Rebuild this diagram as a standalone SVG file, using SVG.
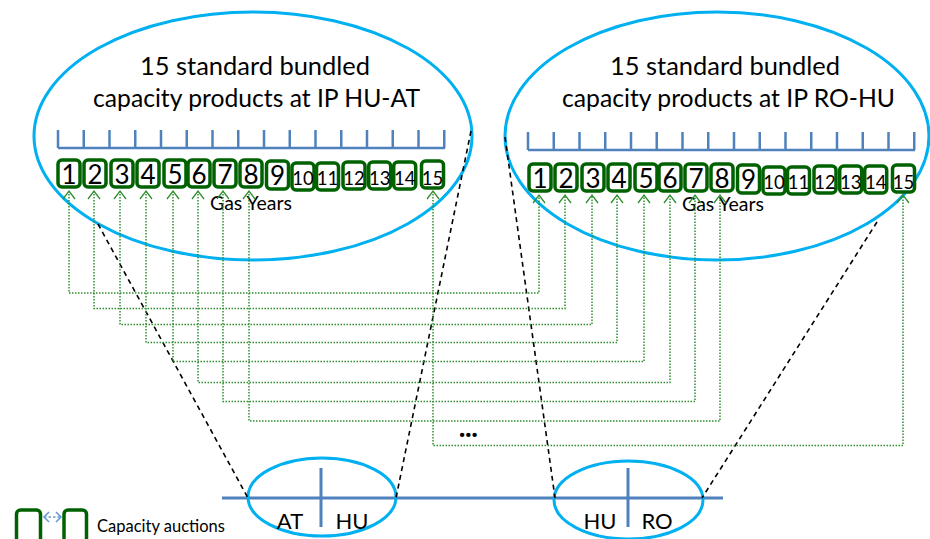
<svg xmlns="http://www.w3.org/2000/svg" width="930" height="539" viewBox="0 0 930 539">
<defs>
<style>
.ell{fill:none;stroke:#00b0f0;stroke-width:3}
.tl{fill:none;stroke:#4f81bd;stroke-width:2.5}
.box{fill:#fff;stroke:#006100;stroke-width:3.5}
.t{font-family:Lato,"Liberation Sans",sans-serif;fill:#000}
.big{font-size:26px;text-anchor:middle}
.sm{font-size:18.5px;text-anchor:middle}
.title{font-size:25.5px;text-anchor:middle}
.conn{fill:none;stroke:#2e8f2e;stroke-width:1.5;stroke-dasharray:1.5 1.5;marker-start:url(#chev);marker-end:url(#chev)}
.dash{fill:none;stroke:#000;stroke-width:1.6;stroke-dasharray:5 4}
</style>
<marker id="chev" markerUnits="userSpaceOnUse" markerWidth="20" markerHeight="20" viewBox="-10 -10 20 20" refX="0" refY="0" orient="auto-start-reverse">
<path d="M-8,-6 L0,0 L-8,6" fill="none" stroke="#2e8f2e" stroke-width="1.3"/>
</marker>
<marker id="lchev" markerUnits="userSpaceOnUse" markerWidth="12" markerHeight="12" viewBox="-6 -6 12 12" refX="0" refY="0" orient="auto-start-reverse">
<path d="M-5,-5 L0,0 L-5,5" fill="none" stroke="#6a9bd8" stroke-width="1.6"/>
</marker>
</defs>
<rect width="930" height="539" fill="#fff"/>

<g id="ip-hu-at">
<ellipse class="ell" cx="253" cy="136" rx="219" ry="124"/>
<text class="t title" x="255" y="75" textLength="230" lengthAdjust="spacingAndGlyphs">15 standard bundled</text>
<text class="t title" x="256.5" y="107" textLength="327" lengthAdjust="spacingAndGlyphs">capacity products at IP HU-AT</text>
<path class="tl" d="M58,148 H445 M58,130 V148 M83.75,130 V148 M109.5,130 V148 M135.25,130 V148 M161,130 V148 M186.75,130 V148 M212.5,130 V148 M238.25,130 V148 M264,130 V148 M289.75,130 V148 M315.5,130 V148 M341.25,130 V148 M367,130 V148 M392.75,130 V148 M418.5,130 V148 M444.25,130 V148"/>
<g>
<rect class="box" x="58" y="160" width="22" height="27" rx="4"/><text class="t big" x="69" y="184">1</text>
<rect class="box" x="84" y="160" width="22" height="27" rx="4"/><text class="t big" x="95" y="184">2</text>
<rect class="box" x="111" y="160" width="22" height="27" rx="4"/><text class="t big" x="122" y="184">3</text>
<rect class="box" x="137" y="160" width="22" height="27" rx="4"/><text class="t big" x="148" y="184">4</text>
<rect class="box" x="164" y="160" width="22" height="27" rx="4"/><text class="t big" x="175" y="184">5</text>
<rect class="box" x="188" y="160" width="22" height="27" rx="4"/><text class="t big" x="199" y="184">6</text>
<rect class="box" x="214" y="160" width="22" height="27" rx="4"/><text class="t big" x="225" y="184">7</text>
<rect class="box" x="240" y="160" width="22" height="27" rx="4"/><text class="t big" x="251" y="184">8</text>
<rect class="box" x="266.5" y="161" width="22" height="28" rx="4"/><text class="t big" x="277.5" y="185">9</text>
<rect class="box" x="292" y="163" width="22" height="27" rx="4"/><text class="t sm" x="303" y="184.5">10</text>
<rect class="box" x="316.5" y="163" width="22" height="27" rx="4"/><text class="t sm" x="327.5" y="184.5">11</text>
<rect class="box" x="343" y="162" width="22" height="27" rx="4"/><text class="t sm" x="354" y="184.5">12</text>
<rect class="box" x="368.7" y="162" width="22" height="27" rx="4"/><text class="t sm" x="379.7" y="184.5">13</text>
<rect class="box" x="393.7" y="162" width="22" height="27" rx="4"/><text class="t sm" x="404.7" y="184.5">14</text>
<rect class="box" x="421.5" y="161" width="22" height="27" rx="4"/><text class="t sm" x="432.5" y="184.5">15</text>
</g>
<text class="t" x="251" y="210" font-size="19.5" text-anchor="middle">Gas Years</text>
</g>

<g id="ip-ro-hu">
<ellipse class="ell" cx="717" cy="136" rx="212" ry="124"/>
<text class="t title" x="725" y="75" textLength="230" lengthAdjust="spacingAndGlyphs">15 standard bundled</text>
<text class="t title" x="728.5" y="107" textLength="333" lengthAdjust="spacingAndGlyphs">capacity products at IP RO-HU</text>
<path class="tl" d="M528,150 H915 M528,132 V150 M553.75,132 V150 M579.5,132 V150 M605.25,132 V150 M631,132 V150 M656.75,132 V150 M682.5,132 V150 M708.25,132 V150 M734,132 V150 M759.75,132 V150 M785.5,132 V150 M811.25,132 V150 M837,132 V150 M862.75,132 V150 M888.5,132 V150 M914.25,132 V150"/>
<g>
<rect class="box" x="529" y="164" width="22" height="27" rx="4"/><text class="t big" x="540" y="188">1</text>
<rect class="box" x="555" y="164" width="22" height="27" rx="4"/><text class="t big" x="566" y="188">2</text>
<rect class="box" x="582" y="164" width="22" height="27" rx="4"/><text class="t big" x="593" y="188">3</text>
<rect class="box" x="608" y="164" width="22" height="27" rx="4"/><text class="t big" x="619" y="188">4</text>
<rect class="box" x="635" y="164" width="22" height="27" rx="4"/><text class="t big" x="646" y="188">5</text>
<rect class="box" x="659" y="164" width="22" height="27" rx="4"/><text class="t big" x="670" y="188">6</text>
<rect class="box" x="685" y="164" width="22" height="27" rx="4"/><text class="t big" x="696" y="188">7</text>
<rect class="box" x="711" y="164" width="22" height="27" rx="4"/><text class="t big" x="722" y="188">8</text>
<rect class="box" x="737.5" y="165" width="22" height="28" rx="4"/><text class="t big" x="748.5" y="189">9</text>
<rect class="box" x="763" y="167" width="22" height="27" rx="4"/><text class="t sm" x="774" y="188.5">10</text>
<rect class="box" x="787.5" y="167" width="22" height="27" rx="4"/><text class="t sm" x="798.5" y="188.5">11</text>
<rect class="box" x="814" y="166" width="22" height="27" rx="4"/><text class="t sm" x="825" y="188.5">12</text>
<rect class="box" x="839.7" y="166" width="22" height="27" rx="4"/><text class="t sm" x="850.7" y="188.5">13</text>
<rect class="box" x="864.7" y="166" width="22" height="27" rx="4"/><text class="t sm" x="875.7" y="188.5">14</text>
<rect class="box" x="892.5" y="165" width="22" height="27" rx="4"/><text class="t sm" x="903.5" y="188.5">15</text>
</g>
<text class="t" x="723" y="211" font-size="19.5" text-anchor="middle">Gas Years</text>
</g>

<g id="pipeline">
<path d="M222,498 H723" fill="none" stroke="#4f81bd" stroke-width="3"/>
</g>

<g id="ip-at-hu">
<ellipse class="ell" cx="322" cy="497" rx="74" ry="39"/>
<path d="M321,468 V527" stroke="#4f81bd" stroke-width="3"/>
<text class="t" x="290" y="529" font-size="22" text-anchor="middle">AT</text>
<text class="t" x="352" y="529" font-size="22" text-anchor="middle">HU</text>
</g>

<g id="ip-hu-ro">
<ellipse class="ell" cx="628.5" cy="500" rx="74.5" ry="39"/>
<path d="M628,468 V527" stroke="#4f81bd" stroke-width="3"/>
<text class="t" x="600" y="529" font-size="22" text-anchor="middle">HU</text>
<text class="t" x="657" y="529" font-size="22" text-anchor="middle">RO</text>
</g>

<g id="connectors">
<path class="dash" d="M98,224 L248,498"/>
<path class="dash" d="M471,131 L396,498"/>
<path class="dash" d="M505,137 L555,498"/>
<path class="dash" d="M877,222 L702,498"/>
<path class="conn" d="M69,191 V293 H539 V195"/>
<path class="conn" d="M94,191 V308.5 H565 V195"/>
<path class="conn" d="M120,191 V324.5 H592 V195"/>
<path class="conn" d="M146,191 V342.5 H617 V195"/>
<path class="conn" d="M173,191 V361.5 H644 V195"/>
<path class="conn" d="M198,191 V382.5 H670 V195"/>
<path class="conn" d="M223,191 V401.5 H695 V195"/>
<path class="conn" d="M249,191 V421 H720 V195"/>
<path class="conn" d="M433,191 V445.5 H903 V195"/>
</g>
<text class="t" x="459" y="437" font-size="26" font-weight="900">...</text>

<g id="legend">
<rect class="box" x="16.5" y="510" width="24" height="40" rx="4"/>
<rect class="box" x="64" y="510" width="22.5" height="40" rx="4"/>
<path d="M44,517 H61" fill="none" stroke="#6a9bd8" stroke-width="1.3" stroke-dasharray="2.5 2" marker-start="url(#lchev)" marker-end="url(#lchev)"/>
<text class="t" x="97" y="532" font-size="16.5">Capacity auctions</text>
</g>
</svg>
